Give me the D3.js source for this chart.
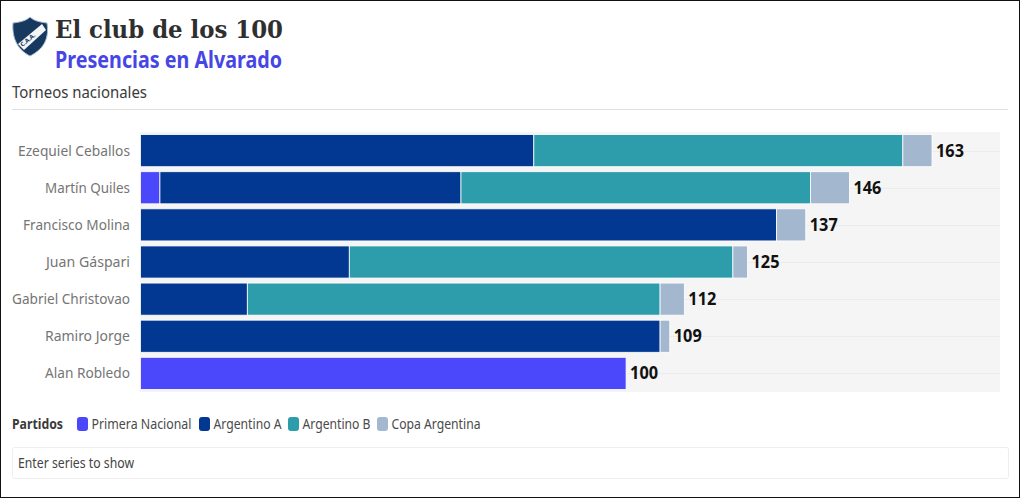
<!DOCTYPE html>
<html><head><meta charset="utf-8">
<script src="https://cdn.jsdelivr.net/npm/d3@7"></script>
<style>html,body{margin:0;padding:0;background:#fff;overflow:hidden}svg{display:block}text{font-family:"Noto Sans",sans-serif}</style>
</head><body><svg id="c" width="1020" height="498"></svg>
<script>
const players=["Ezequiel Ceballos","Martín Quiles","Francisco Molina","Juan Gáspari","Gabriel Christovao","Ramiro Jorge","Alan Robledo"];
const seriesNames=["Primera Nacional","Argentino A","Argentino B","Copa Argentina"];
const seriesColors=["#4b47fb","#023891","#2e9dab","#a3b8cf"];
const primeraNacional=[0,4,0,0,0,0,100];
const argentinoA=[81,62,131,43,22,107,0];
const argentinoB=[76,72,0,79,85,0,0];
const copaArgentina=[6,8,6,3,5,2,0];
const totals=[163,146,137,125,112,109,100];

const svg=d3.select("#c");
function fit(t,len){t.attr("textLength",len).attr("lengthAdjust","spacingAndGlyphs");return t;}
svg.append("rect").attr("x",.5).attr("y",.5).attr("width",1019).attr("height",497).attr("fill","#fff").attr("stroke","#111");

// header
const logo=svg.append("g").attr("transform","translate(13,16)");
logo.append("path").attr("d","M17 1 C20 4 25 6 34 7 C36 20 33 32 17 40 C3 33 -1 20 0 7 C9 6 14 4 17 1Z").attr("fill","#17385f").attr("stroke","#a9bbcf").attr("stroke-width",1);
logo.append("path").attr("d","M5 28 L29 8 L33 14 L11 34Z").attr("fill","#f2f4f6");
logo.append("text").attr("transform","translate(9.5,31) rotate(-40)").attr("font-size",6).attr("font-weight",700).attr("fill","#17385f").text("C.A.A.");
fit(svg.append("text").attr("x",55).attr("y",38).text("El club de los 100").style("font-family",'"DejaVu Serif",serif').attr("font-weight",700).attr("font-size",25).attr("fill","#2f2f2f"),228);
fit(svg.append("text").attr("x",55).attr("y",68).text("Presencias en Alvarado").attr("font-weight",700).attr("font-size",23).attr("fill","#4646e6"),227);
fit(svg.append("text").attr("x",12).attr("y",98).text("Torneos nacionales").attr("font-size",16.5).attr("fill","#3a3a3a"),135);
svg.append("line").attr("x1",12).attr("x2",1008).attr("y1",109.5).attr("y2",109.5).attr("stroke","#e0e0e0");

// chart
const x=d3.scaleLinear().domain([0,163]).range([140.5,932]);
const y=d3.scaleBand().domain(players).range([132,392]).paddingInner(0.135).paddingOuter(0.07);
svg.append("rect").attr("x",140).attr("y",132).attr("width",860).attr("height",260).attr("fill","#f5f5f5");
svg.append("g").selectAll("line").data(players).join("line")
 .attr("x1",140).attr("x2",1000).attr("y1",d=>Math.round(y(d)+y.bandwidth()/2)+.5).attr("y2",d=>Math.round(y(d)+y.bandwidth()/2)+.5).attr("stroke","#ececec");

const table=players.map((p,i)=>({player:p,"Primera Nacional":primeraNacional[i],"Argentino A":argentinoA[i],"Argentino B":argentinoB[i],"Copa Argentina":copaArgentina[i]}));
const stacked=d3.stack().keys(seriesNames)(table);
svg.append("g").selectAll("g").data(stacked).join("g").attr("fill",(d,i)=>seriesColors[i])
 .selectAll("rect").data(d=>d.filter(s=>s[1]>s[0])).join("rect")
 .attr("x",d=>x(d[0])).attr("y",d=>y(d.data.player)).attr("width",d=>x(d[1])-x(d[0])).attr("height",y.bandwidth())
 .attr("stroke","#fff").attr("stroke-width",.8);

svg.append("g").selectAll("text").data(players).join("text")
 .attr("x",130).attr("y",d=>y(d)+y.bandwidth()/2+5).attr("text-anchor","end").attr("font-size",14.5).attr("fill","#757575").text(d=>d)
 .attr("textLength",d=>({"Ezequiel Ceballos":112,"Martín Quiles":85,"Francisco Molina":107,"Juan Gáspari":84,"Gabriel Christovao":118,"Ramiro Jorge":85,"Alan Robledo":85})[d]).attr("lengthAdjust","spacingAndGlyphs");
svg.append("g").selectAll("text").data(players).join("text")
 .attr("x",(d,i)=>x(totals[i])+4).attr("y",d=>y(d)+y.bandwidth()/2+6).attr("font-size",17).attr("font-weight",700).attr("fill","#111").text((d,i)=>totals[i])
 .attr("textLength",28).attr("lengthAdjust","spacingAndGlyphs");

// legend
fit(svg.append("text").attr("x",12).attr("y",429).text("Partidos").attr("font-size",13.5).attr("font-weight",700).attr("fill","#3a3a3a"),51);
const lx=[77,199,288,377], lw=[100,68,68,89];
const lg=svg.append("g").selectAll("g").data(seriesNames).join("g").attr("transform",(d,i)=>`translate(${lx[i]},417)`);
lg.append("rect").attr("width",11).attr("height",14).attr("rx",3).attr("fill",(d,i)=>seriesColors[i]);
lg.append("text").attr("x",14.5).attr("y",12).attr("font-size",14).attr("fill","#4a4a4a").text(d=>d).attr("textLength",(d,i)=>lw[i]).attr("lengthAdjust","spacingAndGlyphs");

// search box
svg.append("rect").attr("x",12.5).attr("y",447.5).attr("width",996).attr("height",31).attr("rx",2).attr("fill","#fff").attr("stroke","#eee");
fit(svg.append("text").attr("x",18).attr("y",468).text("Enter series to show").attr("font-size",13.5).attr("fill","#444"),116);
</script></body></html>
